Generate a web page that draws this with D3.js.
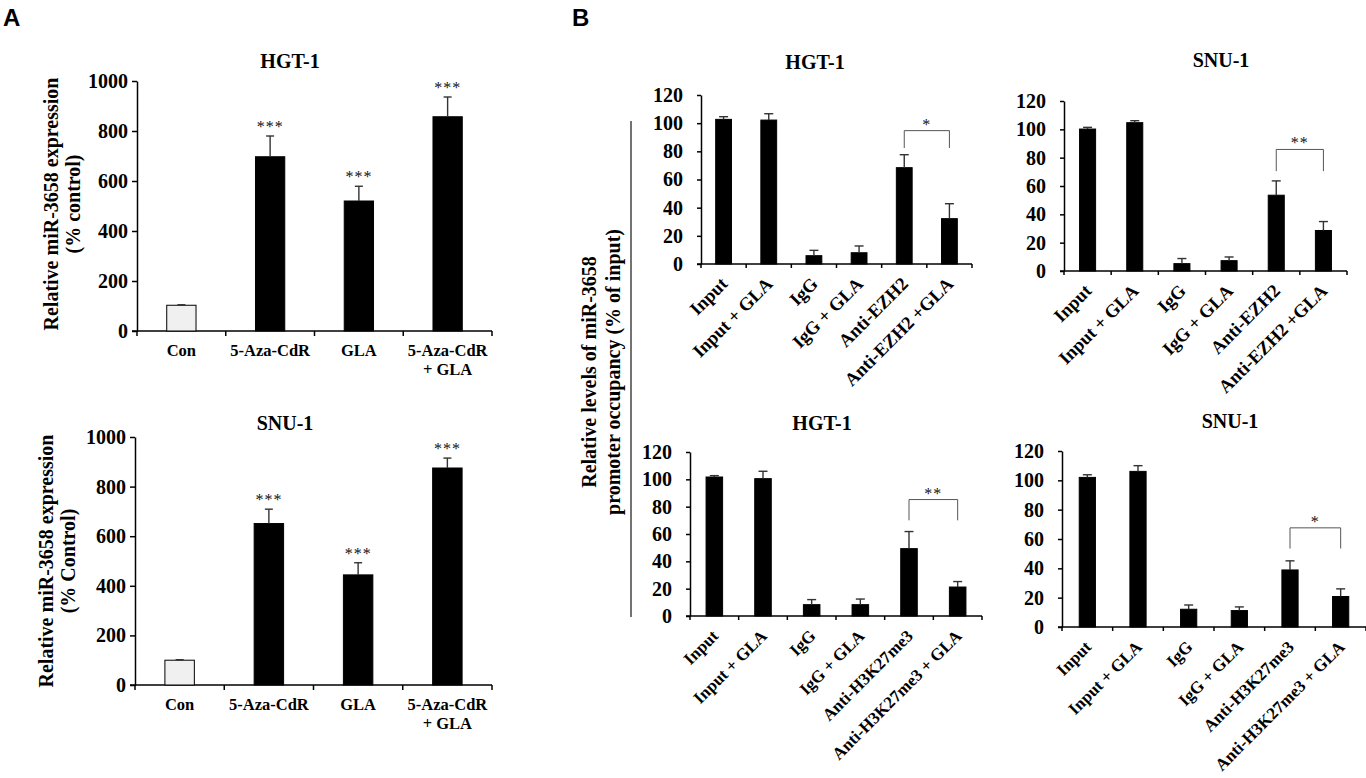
<!DOCTYPE html>
<html>
<head>
<meta charset="utf-8">
<script src="https://cdn.jsdelivr.net/npm/d3@7/dist/d3.min.js"></script>
<style>
  html, body { margin: 0; padding: 0; background: #fff; }
  svg { display: block; }
  text { font-family: "Liberation Serif", "Times New Roman", serif; font-weight: bold; fill: #000; }
</style>
</head>
<body>
<svg id="chart" width="1366" height="778"></svg>
<script>
// ---- data ----
const exprCats = [["Con"], ["5-Aza-CdR"], ["GLA"], ["5-Aza-CdR", "+ GLA"]];
const exprTicks = [0, 200, 400, 600, 800, 1000];
const hgtExprMean = [103, 697, 520, 857];
const hgtExprErr = [2, 83, 59, 79];
const snuExprMean = [100, 651, 444, 875];
const snuExprErr = [2, 58, 49, 40];
const exprStars = ["", "***", "***", "***"];

const ezh2Cats = ["Input", "Input + GLA", "IgG", "IgG + GLA", "Anti-EZH2", "Anti-EZH2 +GLA"];
const h3Cats = ["Input", "Input + GLA", "IgG", "IgG + GLA", "Anti-H3K27me3", "Anti-H3K27me3 + GLA"];
const occTicks = [0, 20, 40, 60, 80, 100, 120];
const hgtEzh2Mean = [102.7, 102.2, 5.9, 8.0, 68.4, 32.2];
const hgtEzh2Err = [1.9, 4.5, 3.8, 4.8, 9.2, 10.6];
const snuEzh2Mean = [100.2, 104.7, 5.2, 7.3, 53.5, 28.6];
const snuEzh2Err = [1.2, 1.4, 3.6, 2.6, 10.1, 6.3];
const hgtH3Mean = [101.7, 100.5, 8.3, 8.3, 49.3, 21.2];
const hgtH3Err = [1.0, 5.4, 3.7, 4.1, 12.5, 4.0];
const snuH3Mean = [102.0, 106.1, 12.1, 11.2, 38.9, 20.8];
const snuH3Err = [1.8, 3.9, 2.9, 2.5, 6.2, 5.2];

// significance brackets: [from bar, to bar, top value, leg bottom value, label]
const hgtEzh2Sig = [4, 5, 94.7, 82.4, "*"];
const snuEzh2Sig = [4, 5, 85.8, 70.5, "**"];
const hgtH3Sig = [4, 5, 85.2, 70, "**"];
const snuH3Sig = [4, 5, 67.6, 53.5, "*"];

const svg = d3.select("#chart");
svg.append("rect").attr("width", 1366).attr("height", 778).attr("fill", "#fff");

const serif = "Liberation Serif, Times New Roman, serif";

function drawPanel(o) {
  const g = svg.append("g");
  const n = o.means.length;
  const x = d3.scaleBand().domain(d3.range(n)).range([o.x0, o.x1]).padding(0);
  const y = d3.scaleLinear().domain([0, o.ymax]).range([o.yBottom, o.yTop]);
  const bw = x.bandwidth() * o.barFrac;

  // y axis
  const yAxis = d3.axisLeft(y).tickValues(o.ticks).tickFormat(d3.format("d"))
    .tickSize(o.tickLen).tickPadding(o.tickPad).tickSizeOuter(0);
  const ya = g.append("g").attr("transform", `translate(${o.x0},0)`).call(yAxis)
    .attr("font-family", serif).attr("font-size", o.tickFont).attr("font-weight", "bold");
  ya.select(".domain").attr("stroke", "#000").attr("stroke-width", 1.5);
  ya.selectAll(".tick line").attr("stroke", "#000").attr("stroke-width", 1.5);
  ya.selectAll(".tick text").attr("fill", "#000");

  // x axis line with ticks at category boundaries
  g.append("line").attr("x1", o.x0 - o.tickLen).attr("x2", o.x1)
    .attr("y1", o.yBottom).attr("y2", o.yBottom).attr("stroke", "#000").attr("stroke-width", 1.5);
  const bounds = d3.range(n + 1).map(i => i < n ? x(i) : x(n - 1) + x.bandwidth());
  g.selectAll(".xtick").data(bounds).join("line")
    .attr("x1", d => d).attr("x2", d => d)
    .attr("y1", o.yBottom).attr("y2", o.yBottom + o.tickLen)
    .attr("stroke", "#000").attr("stroke-width", 1.5);

  // bars
  g.selectAll(".bar").data(o.means).join("rect")
    .attr("x", (d, i) => x(i) + (x.bandwidth() - bw) / 2)
    .attr("y", d => y(d))
    .attr("width", bw)
    .attr("height", d => o.yBottom - y(d))
    .attr("fill", (d, i) => (o.fills ? o.fills[i] : "#000"))
    .attr("stroke", "#000").attr("stroke-width", 1);

  // error bars (upper only)
  const cx = i => x(i) + x.bandwidth() / 2;
  g.selectAll(".err").data(o.means).join("line")
    .attr("x1", (d, i) => cx(i)).attr("x2", (d, i) => cx(i))
    .attr("y1", d => y(d)).attr("y2", (d, i) => y(d + o.errs[i]))
    .attr("stroke", "#333").attr("stroke-width", 1.4);
  g.selectAll(".cap").data(o.means).join("line")
    .attr("x1", (d, i) => cx(i) - o.capW / 2).attr("x2", (d, i) => cx(i) + o.capW / 2)
    .attr("y1", (d, i) => y(d + o.errs[i])).attr("y2", (d, i) => y(d + o.errs[i]))
    .attr("stroke", "#333").attr("stroke-width", 1.4);

  // stars above bars
  if (o.stars) {
    g.selectAll(".star").data(o.means).join("text")
      .attr("x", (d, i) => cx(i))
      .attr("y", (d, i) => y(d + o.errs[i]) - 4)
      .attr("text-anchor", "middle")
      .style("font-size", "16px").style("font-weight", "normal").style("fill", "#111")
      .style("letter-spacing", "1px")
      .text((d, i) => o.stars[i]);
  }

  // bracket
  if (o.sig) {
    const [a, b, top, bot, lab] = o.sig;
    g.append("path")
      .attr("d", `M${cx(a)},${y(bot)}V${y(top)}H${cx(b)}V${y(bot)}`)
      .attr("fill", "none").attr("stroke", "#555").attr("stroke-width", 1);
    g.append("text").attr("x", (cx(a) + cx(b)) / 2).attr("y", y(top) - 1)
      .attr("text-anchor", "middle")
      .style("font-size", "16px").style("font-weight", "normal").style("fill", "#111")
      .style("letter-spacing", "1px")
      .text(lab);
  }

  // category labels
  if (o.rotLabels) {
    g.selectAll(".xl").data(o.cats).join("text")
      .attr("transform", (d, i) => `translate(${cx(i) + 5},${o.yBottom + 21}) rotate(-45)`)
      .attr("text-anchor", "end")
      .style("font-size", o.labFont + "px")
      .text(d => d);
  } else {
    o.cats.forEach((lines, i) => {
      lines.forEach((ln, k) => {
        g.append("text").attr("x", cx(i)).attr("y", o.yBottom + 25 + k * 19)
          .attr("text-anchor", "middle").style("font-size", "16.5px").text(ln);
      });
    });
  }

  // title
  g.append("text").attr("x", o.titleX).attr("y", o.titleY)
    .attr("text-anchor", "middle").style("font-size", "20px").text(o.title);
}

// ---- panel A ----
drawPanel({
  x0: 137, x1: 492, yTop: 81, yBottom: 331, ymax: 1000, ticks: exprTicks,
  means: hgtExprMean, errs: hgtExprErr, cats: exprCats, stars: exprStars,
  fills: ["#f0f0f0", "#000", "#000", "#000"], barFrac: 0.33, capW: 8,
  tickLen: 5, tickPad: 4, tickFont: 20, title: "HGT-1", titleX: 290, titleY: 68
});
drawPanel({
  x0: 135, x1: 492, yTop: 437, yBottom: 685, ymax: 1000, ticks: exprTicks,
  means: snuExprMean, errs: snuExprErr, cats: exprCats, stars: exprStars,
  fills: ["#f0f0f0", "#000", "#000", "#000"], barFrac: 0.33, capW: 8,
  tickLen: 5, tickPad: 4, tickFont: 20, title: "SNU-1", titleX: 285, titleY: 430
});

function yLabel(xs, cy, lines) {
  lines.forEach((ln, k) => {
    svg.append("text")
      .attr("transform", `translate(${xs[k]},${cy}) rotate(-90)`)
      .attr("text-anchor", "middle").style("font-size", "20px").text(ln);
  });
}
yLabel([58, 80], 204, ["Relative miR-3658 expression", "(% control)"]);
yLabel([53, 75], 561, ["Relative miR-3658 expression", "(% Control)"]);

// ---- panel B ----
drawPanel({
  x0: 701, x1: 972, yTop: 95, yBottom: 264, ymax: 120, ticks: occTicks,
  means: hgtEzh2Mean, errs: hgtEzh2Err, cats: ezh2Cats, sig: hgtEzh2Sig, rotLabels: true,
  barFrac: 0.35, capW: 9, tickLen: 4, tickPad: 14, tickFont: 20, labFont: 18.5,
  title: "HGT-1", titleX: 815, titleY: 69
});
drawPanel({
  x0: 1064, x1: 1347, yTop: 101, yBottom: 271, ymax: 120, ticks: occTicks,
  means: snuEzh2Mean, errs: snuEzh2Err, cats: ezh2Cats, sig: snuEzh2Sig, rotLabels: true,
  barFrac: 0.34, capW: 9, tickLen: 4, tickPad: 14, tickFont: 20, labFont: 18.5,
  title: "SNU-1", titleX: 1221, titleY: 67
});
drawPanel({
  x0: 690, x1: 982, yTop: 452, yBottom: 616, ymax: 120, ticks: occTicks,
  means: hgtH3Mean, errs: hgtH3Err, cats: h3Cats, sig: hgtH3Sig, rotLabels: true,
  barFrac: 0.34, capW: 9, tickLen: 4, tickPad: 14, tickFont: 20, labFont: 17,
  title: "HGT-1", titleX: 822, titleY: 430
});
drawPanel({
  x0: 1062, x1: 1366, yTop: 451, yBottom: 627, ymax: 120, ticks: occTicks,
  means: snuH3Mean, errs: snuH3Err, cats: h3Cats, sig: snuH3Sig, rotLabels: true,
  barFrac: 0.32, capW: 9, tickLen: 4, tickPad: 14, tickFont: 20, labFont: 17,
  title: "SNU-1", titleX: 1230, titleY: 428
});

yLabel([596, 620], 372, ["Relative levels of miR-3658", "promoter occupancy (% of input)"]);
svg.append("line").attr("x1", 631).attr("x2", 631).attr("y1", 121).attr("y2", 617)
  .attr("stroke", "#444").attr("stroke-width", 1.5);

// panel letters
svg.append("text").attr("x", 3).attr("y", 26)
  .style("font-family", "Liberation Sans, Arial, sans-serif").style("font-size", "24px").text("A");
svg.append("text").attr("x", 572).attr("y", 26)
  .style("font-family", "Liberation Sans, Arial, sans-serif").style("font-size", "24px").text("B");
</script>
</body>
</html>
